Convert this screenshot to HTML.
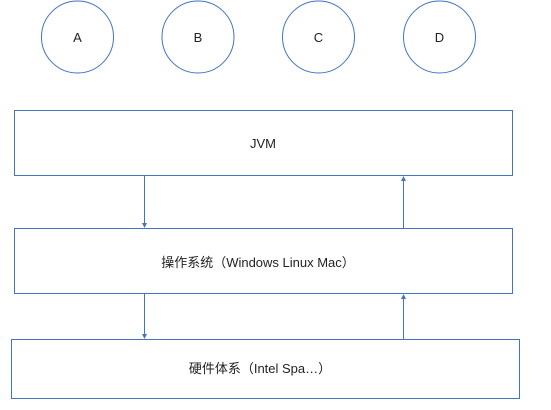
<!DOCTYPE html>
<html><head><meta charset="utf-8"><style>body{margin:0;background:#fff}svg{display:block}</style></head><body>
<svg width="551" height="410" xmlns="http://www.w3.org/2000/svg" font-family="'Liberation Sans','Noto Sans CJK SC',sans-serif" font-size="13" fill="#222">
<g fill="none" stroke="#4472C4" stroke-width="1">
<circle cx="77.5" cy="37" r="36"/><circle cx="198" cy="37" r="36"/><circle cx="318.5" cy="37" r="36"/><circle cx="439.5" cy="37" r="36"/>
<rect x="14.5" y="110.5" width="498" height="65"/>
<rect x="14.5" y="228.5" width="498" height="65"/>
<rect x="11.5" y="339.5" width="508" height="59"/>
<line x1="144.5" y1="176" x2="144.5" y2="225"/>
<line x1="144.5" y1="294" x2="144.5" y2="336"/>
<line x1="403.5" y1="228" x2="403.5" y2="179"/>
<line x1="403.5" y1="339" x2="403.5" y2="297"/>
</g>
<g fill="#4472C4">
<path d="M142,223 L147,223 L144.5,228 Z"/>
<path d="M142,334 L147,334 L144.5,339 Z"/>
<path d="M401,181 L406,181 L403.5,176 Z"/>
<path d="M401,299 L406,299 L403.5,294 Z"/>
</g>
<g text-anchor="middle">
<text x="77.5" y="42">A</text><text x="198" y="42">B</text><text x="318.5" y="42">C</text><text x="439.5" y="42">D</text>
<text x="263" y="148">JVM</text>
<text x="258" y="267">操作系统（Windows Linux Mac）</text>
<text x="260" y="373">硬件体系（Intel Spa…）</text>
</g>
</svg>
</body></html>
